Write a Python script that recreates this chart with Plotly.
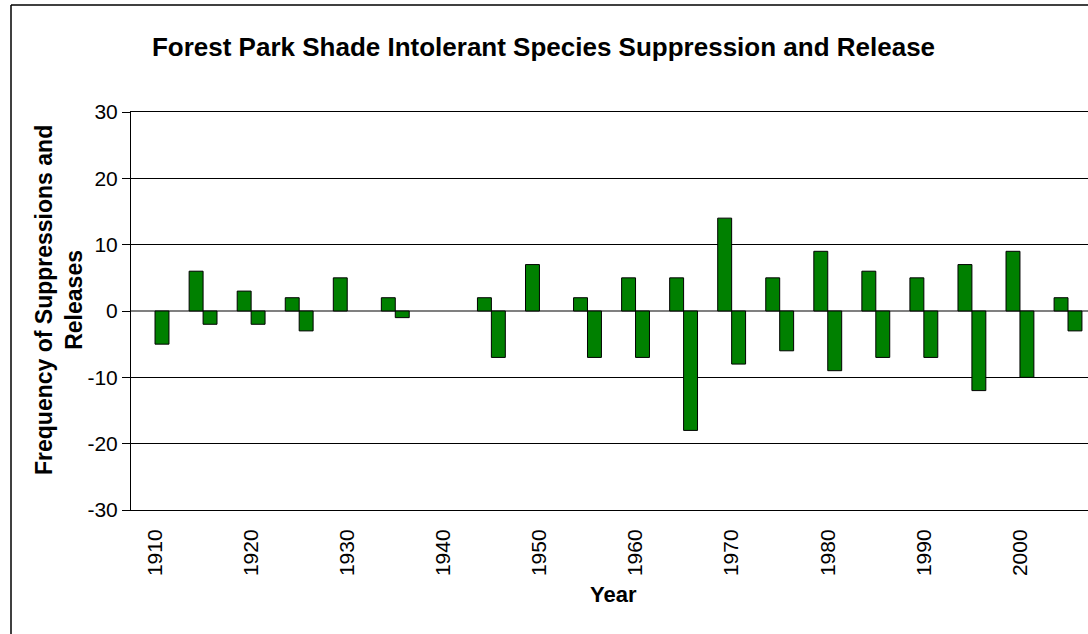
import plotly.graph_objects as go

# Data
years = [1910, 1915, 1920, 1925, 1930, 1935, 1940, 1945, 1950, 1955,
         1960, 1965, 1970, 1975, 1980, 1985, 1990, 1995, 2000, 2005]
releases = [0, 6, 3, 2, 5, 2, 0, 2, 7, 2, 5, 5, 14, 5, 9, 6, 5, 7, 9, 2]
suppressions = [-5, -2, -2, -3, 0, -1, 0, -7, 0, -7, -7, -18, -8, -6, -9, -7, -7, -12, -10, -3]
x_tick_vals = [1910, 1920, 1930, 1940, 1950, 1960, 1970, 1980, 1990, 2000]
y_tick_vals = [-30, -20, -10, 0, 10, 20, 30]

W, H = 1088, 634
ML, MT, MB = 131, 112, 124
PW = W - ML
PH = H - MT - MB
FONT = "Arial, Liberation Sans, sans-serif"
GREEN = "#008000"
BW = 1.45

fig = go.Figure()
fig.add_trace(go.Bar(
    x=years, y=releases, width=BW, offset=-BW,
    marker=dict(color=GREEN, line=dict(color="black", width=[1 if v != 0 else 0 for v in releases])),
    name="Release", showlegend=False))
fig.add_trace(go.Bar(
    x=years, y=suppressions, width=BW, offset=0,
    marker=dict(color=GREEN, line=dict(color="black", width=[1 if v != 0 else 0 for v in suppressions])),
    name="Suppression", showlegend=False))

def px_x(px):
    return (px - ML) / PW

def px_y(py):
    return (H - MB - py) / PH

shapes = [
    dict(type="line", xref="paper", yref="paper", x0=px_x(11), x1=px_x(W + 5), y0=px_y(5), y1=px_y(5),
         line=dict(color="black", width=1.5)),
    dict(type="line", xref="paper", yref="paper", x0=px_x(11), x1=px_x(11), y0=px_y(5), y1=px_y(H + 5),
         line=dict(color="black", width=1.5)),
]

fig.update_layout(
    width=W, height=H,
    margin=dict(l=ML, r=0, t=MT, b=MB, pad=0),
    paper_bgcolor="white", plot_bgcolor="white",
    font=dict(family=FONT, color="black"),
    barmode="overlay",
    title=dict(text="<b>Forest Park Shade Intolerant Species Suppression and Release</b>",
               x=543.5 / W, xref="container", y=1 - 47 / H, yref="container", yanchor="middle",
               xanchor="center", font=dict(size=26, family=FONT, color="black")),
    xaxis=dict(range=[1907.5, 2007.08], tickvals=x_tick_vals, ticktext=[str(v) for v in x_tick_vals],
               tickangle=-90, tickfont=dict(size=21), showgrid=False, zeroline=False,
               showline=True, linecolor="black", linewidth=1, mirror=True, ticks="",
               ticklabelstandoff=10),
    yaxis=dict(range=[-30, 30], tickvals=y_tick_vals, ticktext=[str(v) for v in y_tick_vals],
               tickfont=dict(size=21),
               showgrid=True, gridcolor="black", gridwidth=1,
               zeroline=True, zerolinecolor="#808080", zerolinewidth=2,
               showline=True, linecolor="black", linewidth=1,
               ticks="outside", ticklen=8, tickcolor="black", tickwidth=1),
    shapes=shapes,
    annotations=[
        dict(text="<b>Frequency of Suppressions and<br>Releases</b>", textangle=-90,
             xref="paper", yref="paper", x=px_x(59), y=px_y(300), xanchor="center", yanchor="middle",
             showarrow=False, font=dict(size=23, family=FONT, color="black")),
        dict(text="<b>Year</b>", xref="paper", yref="paper", x=px_x(613), y=px_y(594),
             xanchor="center", yanchor="middle", showarrow=False,
             font=dict(size=22, family=FONT, color="black")),
    ],
)

fig.write_html("out.html")
